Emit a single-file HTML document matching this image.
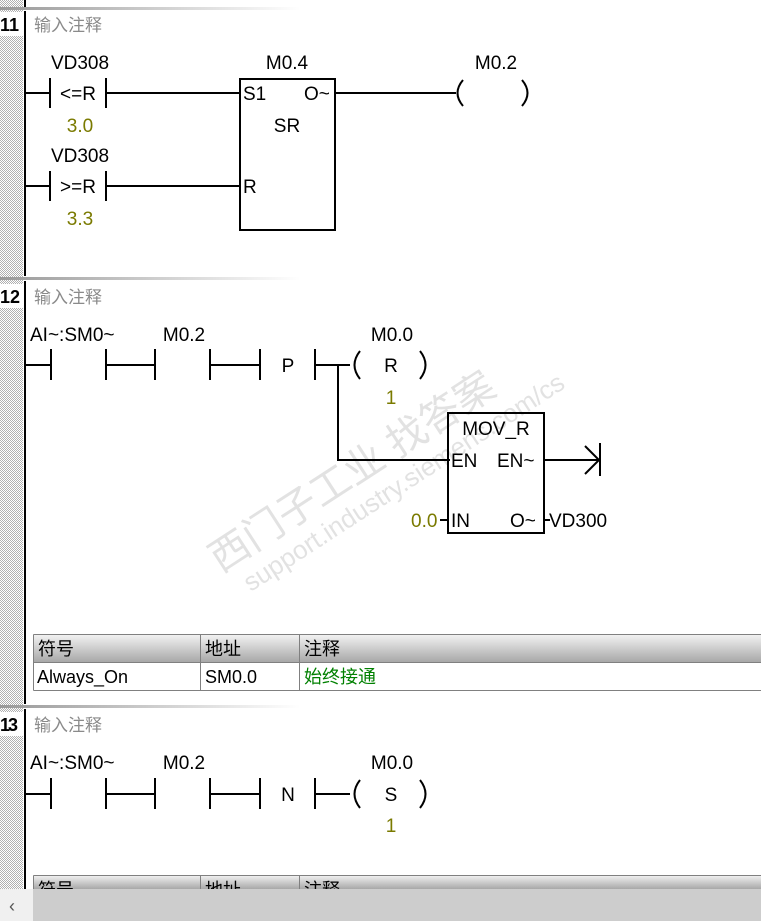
<!DOCTYPE html>
<html><head><meta charset="utf-8"><style>
body{margin:0;width:761px;height:921px;overflow:hidden;background:#fff;position:relative;font-family:"Liberation Sans","Noto Sans CJK SC",sans-serif}
svg{position:absolute;left:0;top:0}
text{font-family:"Liberation Sans","Noto Sans CJK SC",sans-serif;font-size:19px}
.c{font-size:17px;fill:#8a8a8a}
.o{fill:#7a7a00}
.b{font-weight:bold;font-size:18px}
.t{font-size:18px}
</style></head><body>
<svg width="761" height="921" viewBox="0 0 761 921">
<defs>
<pattern id="h" width="2" height="2" patternUnits="userSpaceOnUse"><rect width="2" height="2" fill="#fff"/><rect width="1" height="1" fill="#b0b0b0"/><rect x="1" y="1" width="1" height="1" fill="#b0b0b0"/></pattern>
<linearGradient id="sep" x1="0" x2="1"><stop offset="0" stop-color="#999"/><stop offset="1" stop-color="#fff"/></linearGradient>
<linearGradient id="th" x1="0" y1="0" x2="0" y2="1"><stop offset="0" stop-color="#f4f4f4"/><stop offset="1" stop-color="#a8a8a8"/></linearGradient>
</defs>
<rect x="0" y="0" width="23" height="921" fill="url(#h)"/>
<rect x="0" y="7" width="300" height="3" fill="url(#sep)"/>
<rect x="0" y="277" width="300" height="3" fill="url(#sep)"/>
<rect x="0" y="705" width="300" height="3" fill="url(#sep)"/>
<rect x="0" y="12" width="23" height="24" fill="#fff"/>
<rect x="0" y="284" width="23" height="24" fill="#fff"/>
<rect x="0" y="712" width="23" height="24" fill="#fff"/>
<g fill="#000">
<rect x="24" y="0" width="2" height="7"/>
<rect x="24" y="11" width="2" height="265"/>
<rect x="24" y="281" width="2" height="423"/>
<rect x="24" y="709" width="2" height="180"/>
</g>
<text class="b" x="0" y="31">11</text>
<text class="b" x="0" y="303">12</text>
<text class="b" x="0" y="731" style="letter-spacing:-2px">13</text>
<text class="c" x="34" y="31">输入注释</text>
<text class="c" x="34" y="303">输入注释</text>
<text class="c" x="34" y="731">输入注释</text>

<g fill="#d0d0d0" opacity="0.6" transform="rotate(-33 380 470)">
<text x="190" y="470" style="font-size:40px">西门子工业  找答案</text>
<text x="205" y="502" style="font-size:26px">support.industry.siemens.com/cs</text>
</g>

<g stroke="#000" stroke-width="2" fill="none">
<path d="M26 93H50M50 78V108M106 78V108M106 93H240"/>
<path d="M26 186H50M50 171V201M106 171V201M106 186H240"/>
<rect x="240" y="79" width="95" height="151"/>
<path d="M335 93H456"/>
<path d="M463 80Q452 93 463 106M522 80Q533 93 522 106"/>
<path d="M26 365H51M51 349V380M106 349V380M106 365H155M155 349V380M210 349V380M210 365H260M260 349V380M315 349V380M315 365H350"/>
<path d="M360 351Q349 365 360 379M420 351Q431 365 420 379"/>
<path d="M338 365V460H450"/>
<rect x="448" y="413" width="96" height="120"/>
<path d="M544 460H600M600 443V476M585 446L599 460L585 474"/>
<path d="M440 520H448M544 520H550"/>
<path d="M26 794H51M51 778V809M106 778V809M106 794H155M155 778V809M210 778V809M210 794H260M260 778V809M315 778V809M315 794H350"/>
<path d="M360 780Q349 794 360 808M420 780Q431 794 420 808"/>
</g>
<g text-anchor="middle">
<text x="80" y="69">VD308</text><text x="80" y="162">VD308</text>
<text x="78" y="100">&lt;=R</text><text x="78" y="193">&gt;=R</text>
<text class="o" x="80" y="132">3.0</text><text class="o" x="80" y="225">3.3</text>
<text x="287" y="69">M0.4</text><text x="287" y="132">SR</text>
<text x="496" y="69">M0.2</text>
<text x="392" y="341">M0.0</text><text x="391" y="372">R</text><text class="o" x="391" y="404">1</text>
<text x="184" y="341">M0.2</text>
<text x="288" y="372">P</text>
<text x="496" y="435">MOV_R</text>
<text x="392" y="769">M0.0</text><text x="391" y="801">S</text><text class="o" x="391" y="832">1</text>
<text x="184" y="769">M0.2</text>
<text x="288" y="801">N</text>
</g>
<text x="243" y="100">S1</text><text x="304" y="100">O~</text><text x="243" y="193">R</text>
<text x="30" y="341">AI~:SM0~</text><text x="30" y="769">AI~:SM0~</text>
<text x="451" y="467">EN</text><text x="497" y="467">EN~</text>
<text x="451" y="527">IN</text><text x="510" y="527">O~</text>
<text class="o" x="411" y="527">0.0</text>
<text x="549" y="527">VD300</text>
<rect x="33" y="634" width="728" height="28" fill="url(#th)"/>
<g stroke="#808080" stroke-width="1" fill="none">
<path d="M33.5 634.5H761M33.5 662.5H761M33.5 690.5H761M33.5 634.5V690.5M200.5 634.5V690.5M299.5 634.5V690.5"/>
</g>
<text class="t" x="38" y="655">符号</text><text class="t" x="205" y="655">地址</text><text class="t" x="304" y="655">注释</text>
<text class="t" x="37" y="683">Always_On</text><text class="t" x="205" y="683">SM0.0</text>
<text class="t" x="304" y="683" fill="#008000">始终接通</text>
<rect x="33" y="875" width="728" height="14" fill="url(#th)"/>
<path d="M33.5 875.5H761M33.5 875.5V889M200.5 875.5V889M299.5 875.5V889" stroke="#808080" fill="none"/>
<text class="t" x="38" y="896">符号</text><text class="t" x="205" y="896">地址</text><text class="t" x="304" y="896">注释</text>
<rect x="0" y="889" width="761" height="32" fill="#cdcdcd"/>
<rect x="0" y="889" width="33" height="32" fill="#f0f0f0"/>
<text x="9" y="912" style="font-size:18px;fill:#555">‹</text>
</svg>
</body></html>
